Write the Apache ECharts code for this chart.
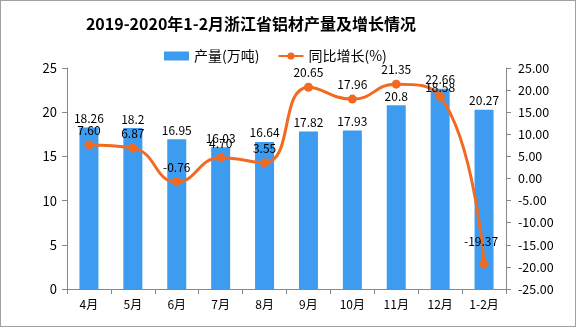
<!DOCTYPE html>
<html>
<head>
<meta charset="utf-8">
<script src="https://cdn.jsdelivr.net/npm/echarts@6/dist/echarts.min.js"></script>
<style>
html,body{margin:0;padding:0;background:#fff;}
#c{width:576px;height:327px;box-sizing:border-box;border:1px solid #a0a0a0;}
</style>
</head>
<body>
<div id="c"></div>
<script>
var categories = ['4月','5月','6月','7月','8月','9月','10月','11月','12月','1-2月'];
var output = [18.26, 18.2, 16.95, 16.03, 16.64, 17.82, 17.93, 20.8, 22.66, 20.27];
var growth = [7.60, 6.87, -0.76, 4.70, 3.55, 20.65, 17.96, 21.35, 18.58, -19.37];
var growthLabels = ['7.60','6.87','-0.76','4.70','3.55','20.65','17.96','21.35','18.58','-19.37'];

var chart = echarts.init(document.getElementById('c'), null, {renderer:'canvas'});
var FONT = 'Noto Sans CJK SC';
var growthData = growth.map(function(v, i){
  var d = {value: v};
  if (i === growth.length - 1) d.label = {distance: 12, offset: [-3, 0]};
  if (i === 8) d.label = {distance: -2};
  return d;
});
chart.setOption({
  animation:false,
  backgroundColor:'#fff',
  title:{
    text:'2019-2020年1-2月浙江省铝材产量及增长情况',
    left:245, top:10, textAlign:'center',
    textStyle:{fontFamily:FONT, fontSize:16, fontWeight:'bold', color:'#000'}
  },
  legend:{
    top:43, left:158, itemGap:18, itemWidth:25, itemHeight:9,
    textStyle:{fontFamily:FONT, fontSize:14, color:'#000'},
    data:[{name:'产量(万吨)', icon:'rect'}, {name:'同比增长(%)'}]
  },
  grid:{left:66, right:69, top:67, bottom:37},
  xAxis:{
    type:'category', data:categories,
    axisLine:{lineStyle:{color:'#888'}},
    axisTick:{show:true, length:5, lineStyle:{color:'#888'}},
    axisLabel:{fontFamily:FONT, fontSize:12, color:'#000', margin:9}
  },
  yAxis:[{
    type:'value', min:0, max:25, interval:5,
    axisLine:{show:true, lineStyle:{color:'#888'}},
    axisTick:{show:true, length:5, lineStyle:{color:'#888'}},
    splitLine:{show:false},
    axisLabel:{fontFamily:FONT, fontSize:13, color:'#000', margin:10}
  },{
    type:'value', min:-25, max:25, interval:5,
    axisLine:{show:true, lineStyle:{color:'#888'}},
    axisTick:{show:true, length:5, lineStyle:{color:'#888'}},
    splitLine:{show:false},
    axisLabel:{fontFamily:FONT, fontSize:12.5, color:'#000', margin:12,
      formatter:function(v){return v.toFixed(2);}}
  }],
  series:[{
    name:'产量(万吨)', type:'bar', data:output, barWidth:19,
    itemStyle:{color:'#3d9cf0'},
    label:{show:true, position:'top', distance:3, fontFamily:FONT, fontSize:12, color:'#000'}
  },{
    name:'同比增长(%)', type:'line', yAxisIndex:1, data:growthData, smooth:0.5,
    symbol:'circle', symbolSize:9,
    lineStyle:{color:'#f26a21', width:3},
    itemStyle:{color:'#f26a21'},
    label:{show:true, position:'top', distance:4, fontFamily:FONT, fontSize:12, color:'#000',
      formatter:function(p){return growthLabels[p.dataIndex];}}
  }]
});
</script>
</body>
</html>
